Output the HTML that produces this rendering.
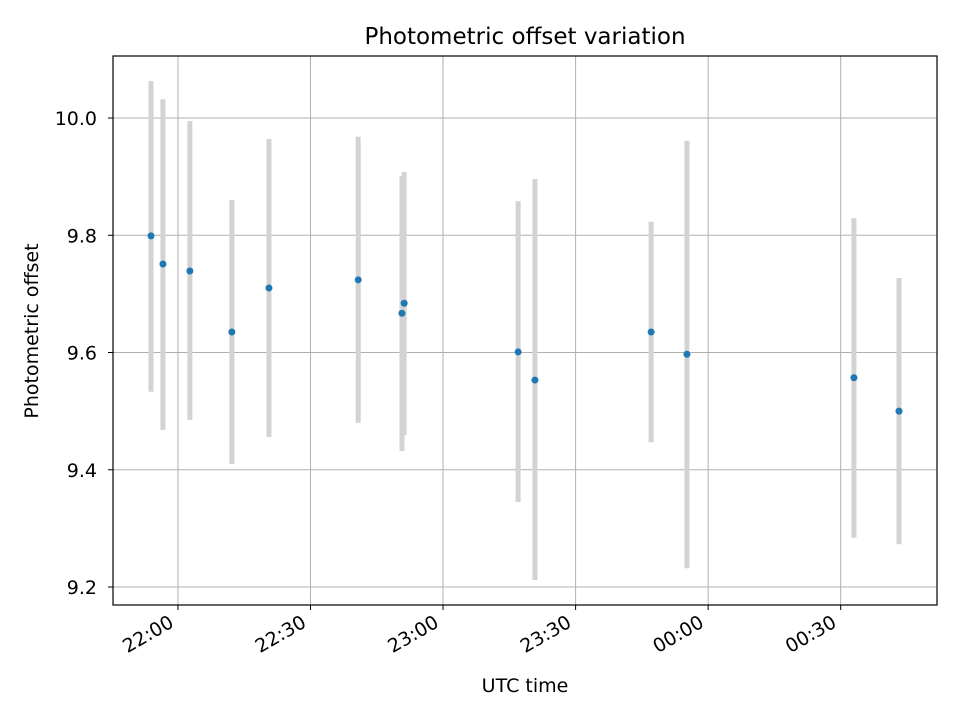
<!DOCTYPE html>
<html><head><meta charset="utf-8"><style>
body{margin:0;background:#fff;}
svg{display:block;font-family:"DejaVu Sans","Liberation Sans",sans-serif;}
</style></head><body>
<svg id="chart" width="960" height="720"></svg>
<script>
const times = [-6.1,-3.4,2.7,12.2,20.6,40.8,50.7,51.2,77.0,80.8,107.1,115.2,153.0,163.2]; // minutes after 22:00
const values = [9.799,9.751,9.739,9.635,9.710,9.724,9.667,9.684,9.601,9.553,9.635,9.597,9.557,9.500];
const errHigh = [10.063,10.032,9.995,9.860,9.964,9.968,9.901,9.908,9.858,9.896,9.823,9.961,9.829,9.727];
const errLow = [9.533,9.468,9.485,9.410,9.456,9.480,9.432,9.459,9.345,9.212,9.447,9.232,9.284,9.273];
const xTicks = [0,30,60,90,120,150];
const xTickLabels = ["22:00","22:30","23:00","23:30","00:00","00:30"];
const yTicks = [9.2,9.4,9.6,9.8,10.0];
const yTickLabels = ["9.2","9.4","9.6","9.8","10.0"];

const L=113,R=937,T=56,B=605;
const xMin=-14.7,xMax=171.8,yMin=9.1693,yMax=10.1058;
const X=v=>L+(v-xMin)/(xMax-xMin)*(R-L);
const Y=v=>B-(v-yMin)/(yMax-yMin)*(B-T);
const svg=document.getElementById('chart');
const NS='http://www.w3.org/2000/svg';
function mk(tag,attrs,parent){const e=document.createElementNS(NS,tag);for(const k in attrs)e.setAttribute(k,attrs[k]);(parent||svg).appendChild(e);return e;}

const grid=mk('g',{});


xTicks.forEach((t,i)=>{
  const l=mk('line',{x1:X(t),x2:X(t),y1:T,y2:B,stroke:'#b0b0b0','stroke-width':1},grid);
  
  
  const tk=mk('line',{x1:X(t),x2:X(t),y1:B,y2:B+5,stroke:'#000','stroke-width':1});
  
  
  const ax=X(t)-3, ay=B+21;
  const tx=mk('text',{x:ax,y:ay,'font-size':19,'text-anchor':'end',transform:`rotate(-30 ${ax} ${ay})`});
  tx.textContent=xTickLabels[i];
  
  
});
yTicks.forEach((t,i)=>{
  const l=mk('line',{x1:L,x2:R,y1:Y(t),y2:Y(t),stroke:'#b0b0b0','stroke-width':1},grid);
  
  
  const tk=mk('line',{x1:L-5,x2:L,y1:Y(t),y2:Y(t),stroke:'#000','stroke-width':1});
  
  
  const tx=mk('text',{x:L-16,y:Y(t)+7,'font-size':19,'text-anchor':'end'});
  tx.textContent=yTickLabels[i];
  
  
});
times.forEach((t,i)=>{
  const e=mk('line',{x1:X(t),x2:X(t),y1:Y(errHigh[i]),y2:Y(errLow[i]),stroke:'#d3d3d3','stroke-width':5});
  
  
});
times.forEach((t,i)=>{
  const c=mk('circle',{cx:X(t),cy:Y(values[i]),r:3.5,fill:'#1f77b4'});
  
  
});
const frame=mk('rect',{x:L,y:T,width:R-L,height:B-T,fill:'none',stroke:'#000','stroke-width':1.2});


const title=mk('text',{x:(L+R)/2,y:44,'font-size':23,'text-anchor':'middle'});
title.textContent='Photometric offset variation';


const xt=mk('text',{x:(L+R)/2,y:692,'font-size':19,'text-anchor':'middle'});
xt.textContent='UTC time';


const yt=mk('text',{x:38,y:331,'font-size':19,'text-anchor':'middle',transform:`rotate(-90 38 331)`});
yt.textContent='Photometric offset';


</script>
</body></html>
